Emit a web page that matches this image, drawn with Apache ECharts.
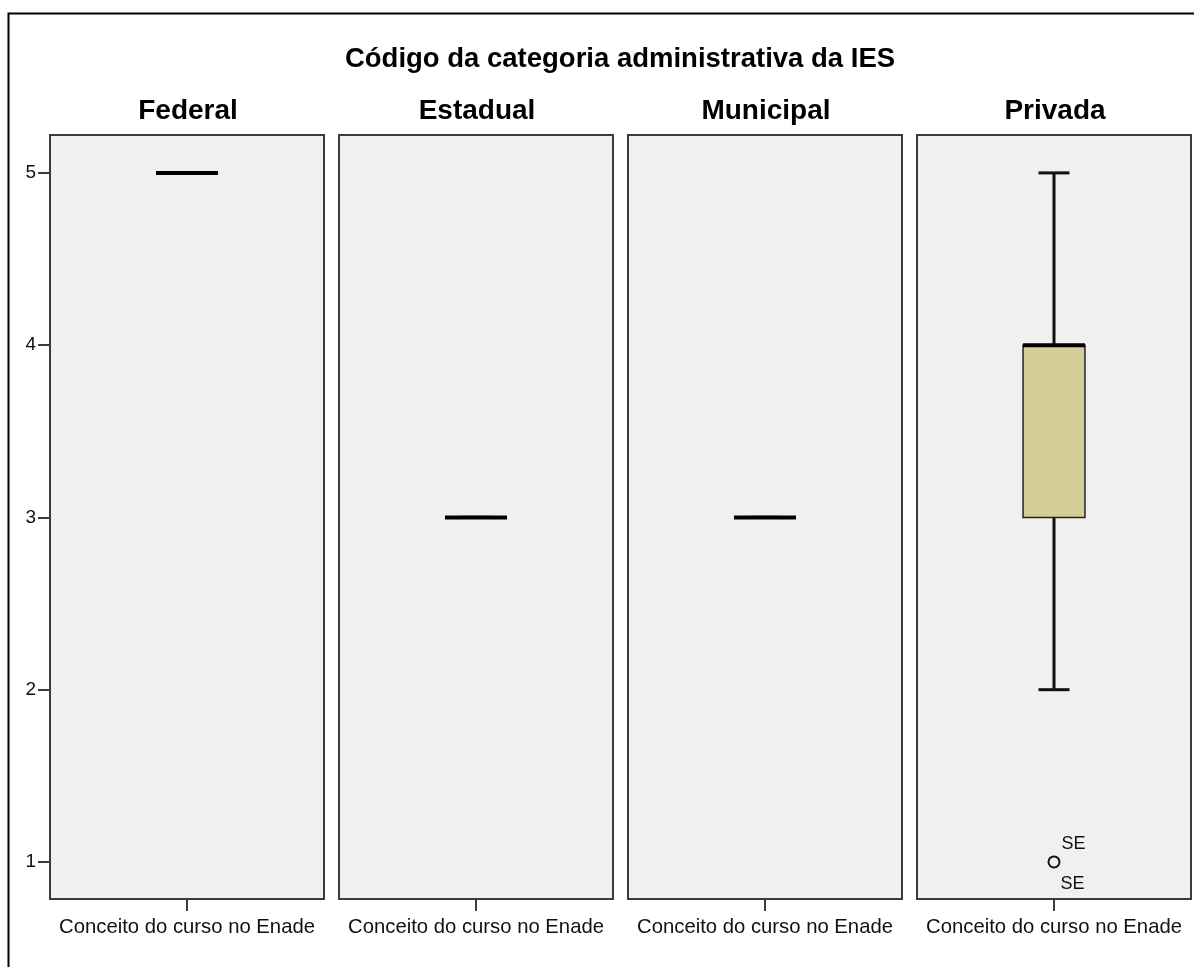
<!DOCTYPE html>
<html>
<head>
<meta charset="utf-8">
<script src="https://cdn.jsdelivr.net/npm/echarts@6/dist/echarts.min.js"></script>
<style>
html,body{margin:0;padding:0;background:#fff;}
#chart{width:1194px;height:967px;}
</style>
</head>
<body>
<div id="chart"></div>
<script>
// ---- data ----
const mainTitle = 'Código da categoria administrativa da IES';
const panels = ['Federal', 'Estadual', 'Municipal', 'Privada'];
const xCategory = ['Conceito do curso no Enade'];
const boxMin    = [5, 3, 3, 2];
const boxQ1     = [5, 3, 3, 3];
const boxMedian = [5, 3, 3, 4];
const boxQ3     = [5, 3, 3, 4];
const boxMax    = [5, 3, 3, 5];
const outlierPanel = [3];
const outlierValue = [1];
const outlierLabelAbove = ['SE'];
const outlierLabelBelow = ['SE'];
const yTicks = [1, 2, 3, 4, 5];

// ---- layout ----
const gridLefts = [50, 339, 628, 917];
const gridWidth = 274;
const gridTop = 135;
const gridHeight = 764;
const yMin = 0.785, yMax = 5.22;
const FONT = '"Liberation Sans", Arial, sans-serif';

const chart = echarts.init(document.getElementById('chart'), null, {renderer: 'canvas'});

const grids = [], xAxes = [], yAxes = [], series = [], graphics = [];

graphics.push({
  type: 'rect', shape: {x: 8.5, y: 13.5, width: 1300, height: 1100},
  style: {fill: 'none', stroke: '#000', lineWidth: 2}, z: 0
});
graphics.push({
  type: 'text', x: 620, y: 59,
  style: {text: mainTitle, font: 'bold 27.5px ' + FONT, fill: '#000', textAlign: 'center', textVerticalAlign: 'middle'}
});

panels.forEach((name, i) => {
  grids.push({
    left: gridLefts[i], top: gridTop, width: gridWidth, height: gridHeight,
    show: true, backgroundColor: '#f0f0f0', borderColor: '#3c3c3c', borderWidth: 2
  });
  graphics.push({
    type: 'text', x: gridLefts[i] + gridWidth / 2 + 1, y: 111,
    style: {text: name, font: 'bold 28px ' + FONT, fill: '#000', textAlign: 'center', textVerticalAlign: 'middle'}
  });
  xAxes.push({
    type: 'category', gridIndex: i, data: xCategory, boundaryGap: true,
    axisLine: {show: true, lineStyle: {color: '#3c3c3c', width: 2}},
    axisTick: {show: true, alignWithLabel: true, length: 12, lineStyle: {color: '#3c3c3c', width: 2}},
    axisLabel: {show: true, margin: 18, fontSize: 20.3, fontFamily: FONT, color: '#111'},
    splitLine: {show: false}
  });
  yAxes.push({
    type: 'value', gridIndex: i, min: yMin, max: yMax,
    axisLine: {show: i === 0, lineStyle: {color: '#3c3c3c', width: 2}},
    axisTick: {show: i === 0, length: 12, customValues: yTicks, lineStyle: {color: '#3c3c3c', width: 2}},
    axisLabel: {show: i === 0, margin: 14, fontSize: 19, fontFamily: FONT, color: '#111', customValues: yTicks},
    splitLine: {show: false}
  });
  series.push({
    type: 'custom', xAxisIndex: i, yAxisIndex: i,
    data: [[0, boxMin[i], boxQ1[i], boxMedian[i], boxQ3[i], boxMax[i]]],
    encode: {x: 0, y: [1, 2, 3, 4, 5]},
    renderItem: function (params, api) {
      const band = api.size([1, 0])[0];
      const boxW = band * 0.226;
      const capW = boxW * 0.5;
      const pMin = api.coord([0, api.value(1)]);
      const pQ1 = api.coord([0, api.value(2)]);
      const pMed = api.coord([0, api.value(3)]);
      const pQ3 = api.coord([0, api.value(4)]);
      const pMax = api.coord([0, api.value(5)]);
      const cx = pMed[0];
      const lineStyle = {stroke: '#111', lineWidth: 3};
      return {
        type: 'group',
        children: [
          {type: 'line', shape: {x1: cx, y1: pQ3[1], x2: cx, y2: pMax[1]}, style: lineStyle},
          {type: 'line', shape: {x1: cx, y1: pQ1[1], x2: cx, y2: pMin[1]}, style: lineStyle},
          {type: 'line', shape: {x1: cx - capW / 2, y1: pMax[1], x2: cx + capW / 2, y2: pMax[1]}, style: lineStyle},
          {type: 'line', shape: {x1: cx - capW / 2, y1: pMin[1], x2: cx + capW / 2, y2: pMin[1]}, style: lineStyle},
          {type: 'rect', shape: {x: cx - boxW / 2, y: pQ3[1], width: boxW, height: pQ1[1] - pQ3[1]},
            style: {fill: '#d3ce97', stroke: '#222', lineWidth: 1.5}},
          {type: 'line', shape: {x1: cx - boxW / 2, y1: pMed[1], x2: cx + boxW / 2, y2: pMed[1]},
            style: {stroke: '#000', lineWidth: 4}}
        ]
      };
    },
    z: 3
  });
});

// outliers
outlierPanel.forEach((p, k) => {
  series.push({
    type: 'scatter', xAxisIndex: p, yAxisIndex: p,
    data: [[0, outlierValue[k]]],
    symbol: 'circle', symbolSize: 11,
    itemStyle: {color: '#f0f0f0', borderColor: '#111', borderWidth: 2, opacity: 1},
    label: {
      show: true, position: [14, -20], formatter: outlierLabelAbove[k],
      fontSize: 18, fontFamily: FONT, color: '#111', opacity: 1
    },
    z: 4
  });
  series.push({
    type: 'scatter', xAxisIndex: p, yAxisIndex: p,
    data: [[0, outlierValue[k]]],
    symbol: 'circle', symbolSize: 1,
    itemStyle: {color: 'rgba(0,0,0,0)', opacity: 1},
    label: {
      show: true, position: [7, 14], formatter: outlierLabelBelow[k],
      fontSize: 18, fontFamily: FONT, color: '#111', opacity: 1
    },
    z: 4
  });
});

chart.setOption({
  animation: false,
  backgroundColor: '#fff',
  grid: grids,
  xAxis: xAxes,
  yAxis: yAxes,
  series: series,
  graphic: graphics
});
</script>
</body>
</html>
